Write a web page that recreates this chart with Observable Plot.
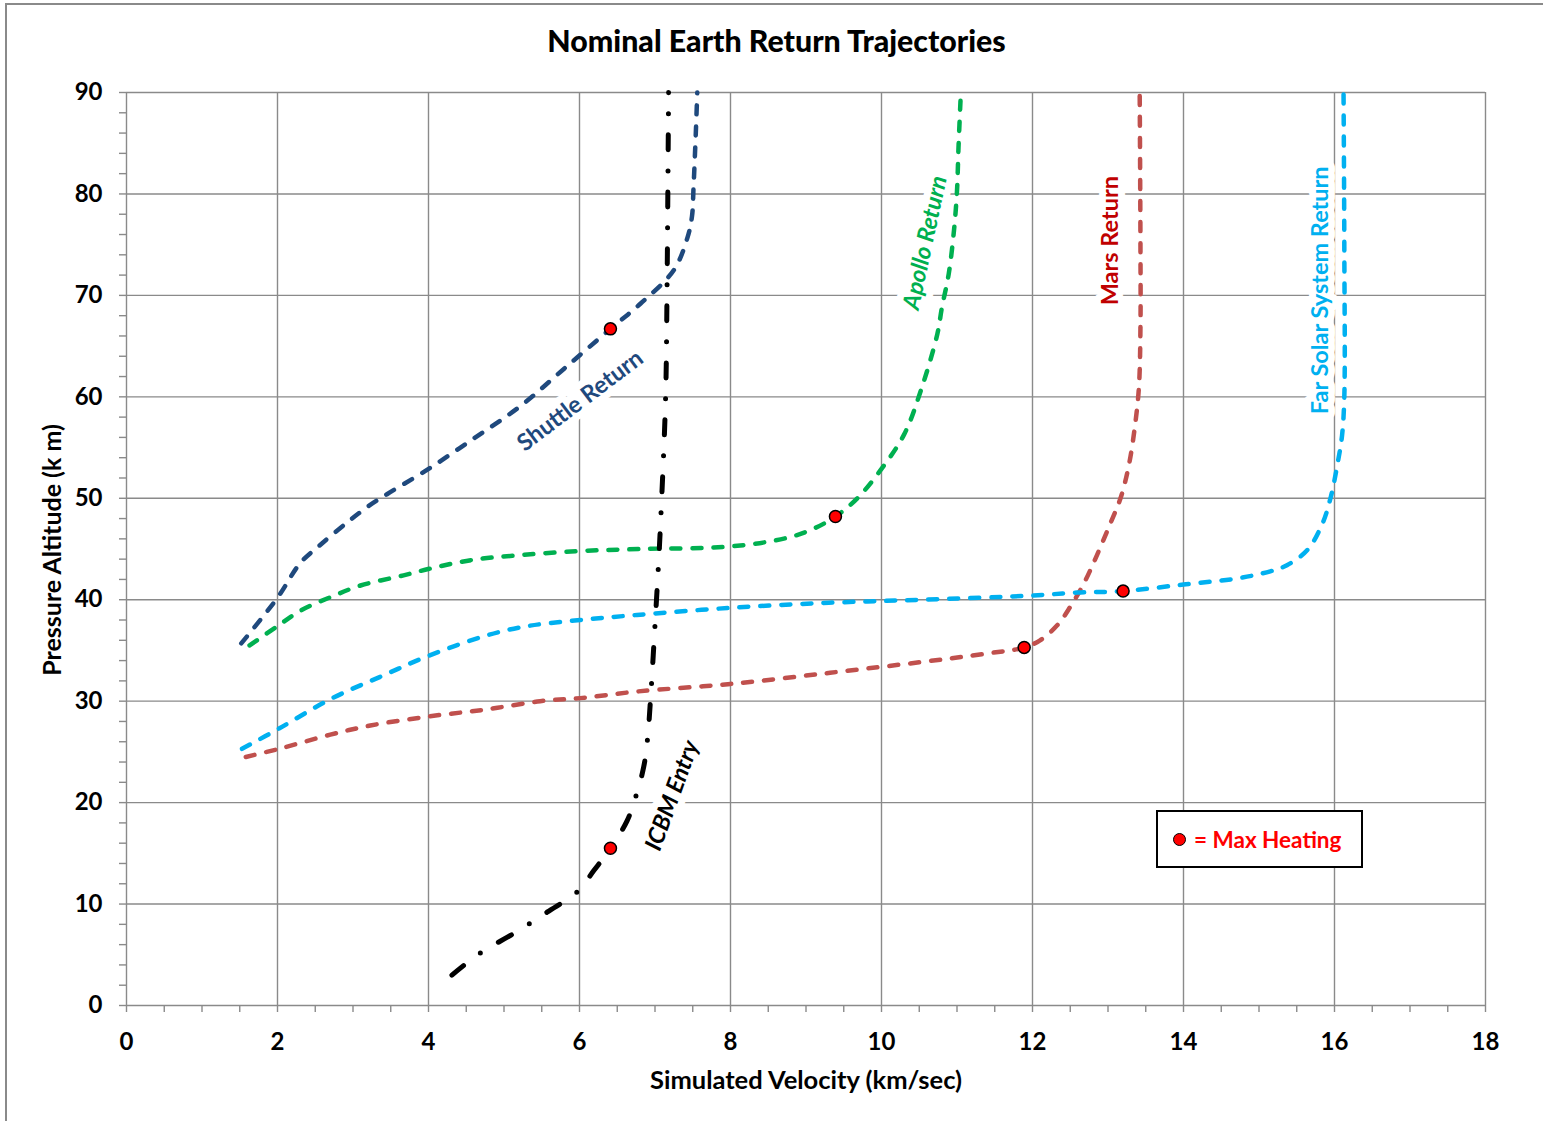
<!DOCTYPE html>
<html>
<head>
<meta charset="utf-8">
<script src="https://cdn.jsdelivr.net/npm/d3@7"></script>
<script src="https://cdn.jsdelivr.net/npm/@observablehq/plot@0.6"></script>
<style>
  body { margin: 0; background: #fff; font-family: Lato, "Open Sans", sans-serif; }
  #wrap { position: relative; width: 1543px; height: 1121px; overflow: hidden; background: #fff; }
  #border { position: absolute; left: 5px; top: 3px; width: 1600px; height: 1200px; border-left: 2px solid #8a8a8a; border-top: 2px solid #8a8a8a; pointer-events: none; z-index: 5; }
  #title { position: absolute; left: 0; width: 1553px; top: 22px; text-align: center; font: 900 30.3px Lato, sans-serif; color: #000; }
  #chart { position: absolute; left: 0; top: 62px; }
  #legend { position: absolute; left: 1156px; top: 810px; width: 203px; height: 54px; border: 2px solid #000; background: #fff; display: flex; align-items: center; }
  #legend .dot { display: inline-block; width: 11px; height: 11px; border-radius: 50%; background: #ff0000; border: 1.5px solid #000; margin-left: 15px; margin-right: 8px; }
  #legend .txt { font: bold 22.5px Lato, sans-serif; color: #ff0000; }
</style>
</head>
<body>
<div id="wrap">
  <div id="title">Nominal Earth Return Trajectories</div>
  <div id="chart"></div>
  <div id="legend"><span class="dot"></span><span class="txt">= Max Heating</span></div>
  <div id="border"></div>
</div>
<script>
// ---- data (velocity km/s, pressure altitude km) ----
const shuttleReturn = [[1.52,35.7],[2.0,40.2],[2.3,43.6],[2.55,45.3],[2.92,47.6],[3.2,49.2],[3.45,50.4],[3.98,52.8],[4.6,55.9],[5.22,59.1],[5.8,62.8],[6.41,66.7],[6.81,69.2],[7.25,72.5],[7.43,75.7],[7.49,77.8],[7.51,80.6],[7.54,85.9],[7.56,90.0]];
const apolloReturn = [[1.63,35.5],[2.0,37.4],[2.3,38.9],[2.7,40.25],[3.1,41.4],[3.67,42.4],[4.01,43.05],[4.56,43.9],[5.22,44.4],[6.01,44.8],[6.81,45.0],[8.0,45.25],[8.75,46.1],[9.1,47.0],[9.39,48.2],[9.68,50.0],[9.99,52.8],[10.3,56.3],[10.52,60.6],[10.74,66.2],[10.8,68.8],[10.89,72.1],[10.96,76.4],[11.0,80.3],[11.02,84.6],[11.05,89.8]];
const marsReturn = [[1.58,24.5],[2.02,25.3],[2.7,26.7],[3.23,27.6],[4.01,28.5],[4.78,29.2],[5.48,30.0],[6.01,30.3],[6.76,30.95],[8.0,31.7],[9.32,32.8],[10.52,33.85],[11.4,34.7],[11.89,35.3],[12.1,36.0],[12.33,37.5],[12.5,39.3],[12.68,41.6],[12.86,44.5],[13.03,47.5],[13.17,50.1],[13.28,53.4],[13.36,57.3],[13.41,61.0],[13.43,67.0],[13.43,74.8],[13.42,89.8]];
const farSolarReturn = [[1.53,25.3],[2.02,27.3],[2.7,30.2],[3.36,32.4],[4.01,34.5],[4.78,36.5],[5.31,37.4],[6.01,38.0],[6.76,38.5],[8.0,39.2],[9.3,39.7],[10.52,40.0],[11.97,40.4],[12.59,40.7],[13.2,40.85],[14.0,41.5],[14.71,42.1],[15.15,42.8],[15.37,43.4],[15.64,44.9],[15.84,47.5],[15.95,50.1],[16.04,53.4],[16.1,56.2],[16.13,60.0],[16.13,74.8],[16.12,89.8]];
const icbmEntry = [[4.31,3.0],[4.69,5.2],[5.13,7.1],[5.57,9.2],[5.97,11.2],[6.19,13.3],[6.41,15.5],[6.63,18.2],[6.75,20.7],[6.85,23.5],[6.9,26.2],[6.94,30.1],[7.0,37.5],[7.05,44.0],[7.08,48.6],[7.14,59.8],[7.16,71.1],[7.17,80.0],[7.18,90.0]];
const maxHeating = [[6.41,66.7],[9.39,48.2],[11.89,35.3],[13.2,40.85],[6.41,15.5]];

const seriesNames = ["Shuttle Return","Apollo Return","Mars Return","Far Solar System Return","ICBM Entry"];
const seriesData = [shuttleReturn, apolloReturn, marsReturn, farSolarReturn, icbmEntry];
const seriesColors = ["#1F497D","#00B050","#C0504D","#00B0F0","#000000"];

// label annotations: text, x, y, rotation, colour, italic
const labelText = ["Shuttle Return","Apollo Return","Mars Return","Far Solar System Return","ICBM Entry"];
const labelX = [6.01, 10.58, 13.03, 15.81, 7.23];
const labelY = [59.6, 75.2, 75.4, 70.5, 20.7];
const labelRotate = [-37, -78, -90, -90, -70];
const labelColors = ["#1F497D","#00B050","#C00000","#00B0F0","#000000"];
const labelItalic = [false, true, false, false, true];

const xMajor = d3.range(0, 18.01, 2);
const xMinor = d3.range(0, 18.01, 0.5);
const yMajor = d3.range(0, 90.01, 10);
const yMinor = d3.range(0, 90.01, 2);

const rows = seriesData.flatMap((arr, i) => arr.map(([v, a]) => ({series: seriesNames[i], v, a})));
const labels = labelText.map((t, i) => ({t, x: labelX[i], y: labelY[i], r: labelRotate[i], c: labelColors[i], it: labelItalic[i]}));
const heat = maxHeating.map(([v, a]) => ({v, a}));

const grid = "#8a8a8a";
const lineMark = (name, color, dash, width) => Plot.line(rows.filter(d => d.series === name), {
  x: "v", y: "a", stroke: color, strokeWidth: width, strokeDasharray: dash,
  strokeLinecap: "round", curve: "catmull-rom"
});

const chart = Plot.plot({
  width: 1543,
  height: 1059,
  marginLeft: 126,
  marginRight: 58,
  marginTop: 30,
  marginBottom: 116,
  style: {fontFamily: "Lato, sans-serif", background: "transparent", overflow: "visible"},
  x: {domain: [0, 18], nice: false},
  y: {domain: [0, 90], nice: false},
  marks: [
    Plot.ruleX(xMajor, {stroke: grid, strokeWidth: 1.4}),
    Plot.ruleY(yMajor, {stroke: grid, strokeWidth: 1.4}),
    Plot.axisX(xMinor, {tickSize: 7, stroke: grid, strokeWidth: 1.4, tickFormat: () => "", label: null}),
    Plot.axisY(yMinor, {tickSize: 7, stroke: grid, strokeWidth: 1.4, tickFormat: () => "", label: null}),
    Plot.axisX(xMajor, {tickSize: 0, tickPadding: 27, fontSize: 24, fontWeight: "bold", fill: "#000", tickFormat: d => String(d), label: null}),
    Plot.axisY(yMajor, {tickSize: 0, tickPadding: 24, fontSize: 24, fontWeight: "bold", fill: "#000", tickFormat: d => String(d), label: null}),
    Plot.text(["Simulated Velocity (km/sec)"], {frameAnchor: "bottom", dy: 75, textAnchor: "middle", lineAnchor: "middle", fontSize: 25.5, fontWeight: "bold", fill: "#000"}),
    Plot.text(["Pressure Altitude (k m)"], {frameAnchor: "left", dx: -74, dy: 1, rotate: -90, textAnchor: "middle", lineAnchor: "middle", fontSize: 25, fontWeight: "bold", fill: "#000"}),
    ...labels.map(l => Plot.text([l], {
      x: "x", y: "y", text: "t", rotate: l.r, fill: l.c, fontSize: 23.5,
      fontWeight: "bold", fontStyle: l.it ? "italic" : "normal",
      stroke: "white", strokeWidth: 14, paintOrder: "stroke", lineAnchor: "middle", textAnchor: "middle"
    })),
    lineMark("Mars Return", seriesColors[2], "9,12", 4.5),
    lineMark("Far Solar System Return", seriesColors[3], "9,12", 4.5),
    lineMark("Apollo Return", seriesColors[1], "9,12", 4.5),
    lineMark("Shuttle Return", seriesColors[0], "9,12", 4.5),
    lineMark("ICBM Entry", seriesColors[4], "15,21,0,21", 5),
    Plot.dot(heat, {x: "v", y: "a", r: 6, fill: "#ff0000", stroke: "#000", strokeWidth: 1.5})
  ]
});
document.getElementById("chart").appendChild(chart);
</script>
</body>
</html>
